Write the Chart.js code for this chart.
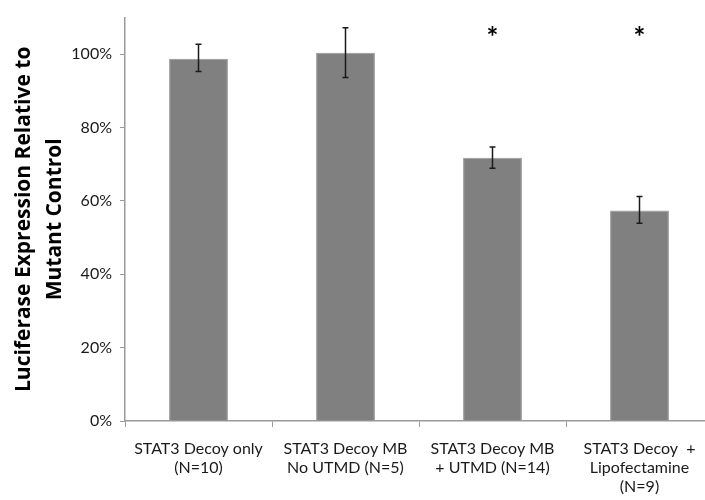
<!DOCTYPE html>
<html>
<head>
<meta charset="utf-8">
<script src="https://cdn.jsdelivr.net/npm/chart.js@4"></script>
<style>
  html, body { margin: 0; padding: 0; background: #fff; overflow: hidden; }
  #wrap { width: 713px; height: 500px; }
</style>
</head>
<body>
<div id="wrap"><canvas id="chart" width="713" height="500"></canvas></div>
<script>
const labels = [
  ["STAT3 Decoy only", "(N=10)"],
  ["STAT3 Decoy MB", "No UTMD (N=5)"],
  ["STAT3 Decoy MB", "+ UTMD (N=14)"],
  ["STAT3 Decoy  +", "Lipofectamine", "(N=9)"]
];
const means = [98.8, 100.4, 71.8, 57.4];
const errHigh = [102.7, 107.2, 74.7, 61.2];
const errLow = [95.3, 93.7, 68.9, 53.9];
const stars = ["", "", "*", "*"];
const starLevel = 105.4;
const yTicks = [0, 20, 40, 60, 80, 100];

// error bars and significance marks
const extras = {
  id: "extras",
  afterDatasetsDraw(chart) {
    const ctx = chart.ctx;
    const x = chart.scales.x, y = chart.scales.y;
    ctx.save();
    ctx.strokeStyle = "#1a1a1a";
    ctx.lineWidth = 1.5;
    means.forEach((m, i) => {
      const px = x.getPixelForValue(i);
      const top = y.getPixelForValue(errHigh[i]);
      const bot = y.getPixelForValue(errLow[i]);
      ctx.beginPath();
      ctx.moveTo(px, top); ctx.lineTo(px, bot);
      ctx.moveTo(px - 3, top); ctx.lineTo(px + 3, top);
      ctx.moveTo(px - 3, bot); ctx.lineTo(px + 3, bot);
      ctx.stroke();
    });
    ctx.fillStyle = "#000";
    ctx.font = "bold 28px Lato";
    ctx.textAlign = "center";
    ctx.textBaseline = "middle";
    stars.forEach((s, i) => {
      if (s) ctx.fillText(s, x.getPixelForValue(i), y.getPixelForValue(starLevel) + 3);
    });
    ctx.restore();
  }
};

new Chart(document.getElementById("chart"), {
  type: "bar",
  data: {
    labels,
    datasets: [{
      data: means,
      backgroundColor: "#808080",
      borderColor: "#959595",
      borderWidth: 1,
      barPercentage: 0.4,
      categoryPercentage: 1.0
    }]
  },
  options: {
    responsive: false,
    animation: false,
    layout: { padding: { top: 15, left: 0, right: 0, bottom: 0 } },
    plugins: { legend: { display: false }, tooltip: { enabled: false } },
    scales: {
      x: {
        grid: { offset: true, drawOnChartArea: false, tickLength: 6, color: "#9a9a9a" },
        border: { color: "#9a9a9a", width: 1.5 },
        ticks: { color: "#1a1a1a", font: { family: "Lato", size: 16 }, padding: 12, maxRotation: 0, autoSkip: false },
        afterFit(s) { s.height = 79; }
      },
      y: {
        min: 0, max: 110,
        afterBuildTicks(s) { s.ticks = yTicks.map(v => ({ value: v })); },
        grid: { drawOnChartArea: false, tickLength: 5, color: "#9a9a9a" },
        border: { color: "#9a9a9a", width: 1.5 },
        ticks: { color: "#1a1a1a", font: { family: "Lato", size: 16 }, padding: 8, callback: v => v + "%" },
        title: {
          display: true,
          text: ["Luciferase Expression Relative to", "Mutant Control"],
          color: "#000",
          font: { family: "Open Sans", size: 21, weight: "bold", lineHeight: 1.45 },
          padding: { top: 9, bottom: 8 }
        },
        afterFit(s) { s.width = 125; }
      }
    }
  },
  plugins: [extras]
});
</script>
</body>
</html>
